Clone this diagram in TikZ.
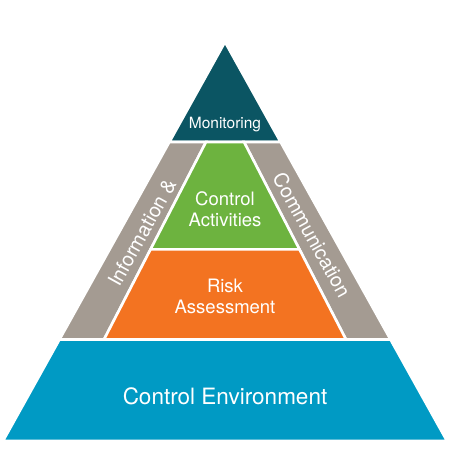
\documentclass[tikz,border=0pt]{standalone}
\usepackage{fontspec}
\setmainfont{TeX Gyre Heros}
\usetikzlibrary{calc}
\definecolor{MonTeal}{RGB}{11,85,99}
\definecolor{InfoGray}{RGB}{164,155,146}
\definecolor{ActGreen}{RGB}{109,179,63}
\definecolor{RiskOrange}{RGB}{243,115,33}
\definecolor{EnvBlue}{RGB}{0,154,196}
\tikzset{
	tier/.style={draw=white, line width=2.6pt, line join=miter},
	lab/.style={text=white, align=center, inner sep=0pt,
		font=\fontsize{18.5}{21}\selectfont},
	bandlab/.style={text=white, inner sep=0pt,
		font=\fontsize{20}{24}\selectfont}
}

\begin{document}
\begin{tikzpicture}[x=1pt, y=-1pt]
		\useasboundingbox (0,0) rectangle (450,450);
		% corners of the pyramid
		\coordinate (apex) at (225,42);
		\coordinate (bl) at (3,441);
		\coordinate (br) at (447,441);
		\coordinate (ml) at (169.4,142);
		\coordinate (mr) at (280.6,142);
		\coordinate (el) at (59.5,339.5);
		\coordinate (er) at (390.5,339.5);
		% inner edges of the side bands
		\coordinate (il) at (206,142);
		\coordinate (ir) at (244,142);
		\coordinate (jl) at (104,339.5);
		\coordinate (jr) at (346,339.5);
		\coordinate (gl) at ($(il)!0.544!(jl)$);
		\coordinate (gr) at ($(ir)!0.544!(jr)$);
		
		\fill[MonTeal, tier] (apex) -- (mr) -- (ml) -- cycle;
		\fill[InfoGray, tier] (ml) -- (il) -- (jl) -- (el) -- cycle;
		\fill[InfoGray, tier] (mr) -- (ir) -- (jr) -- (er) -- cycle;
		\fill[ActGreen, tier] (il) -- (ir) -- (gr) -- (gl) -- cycle;
		\fill[RiskOrange, tier] (gl) -- (gr) -- (jr) -- (jl) -- cycle;
		\fill[EnvBlue, tier] (el) -- (er) -- (br) -- (bl) -- cycle;
		
		\node[lab, font=\fontsize{15.5}{18}\selectfont, anchor=base] (mon) at (225,128) {Monitoring};
		\node[lab] (act) at (225,208.8) {Control\\Activities};
		\node[lab] (risk) at (225,296.8) {Risk\\Assessment};
		\node[lab, font=\fontsize{22.5}{26}\selectfont, anchor=base] (env) at (225,404) {Control Environment};
		\node[bandlab, rotate=61] (info) at (142,232.5) {Information \&};
		\node[bandlab, rotate=-61] (comm) at (312,235) {Communication};
	\end{tikzpicture}
\end{document}
